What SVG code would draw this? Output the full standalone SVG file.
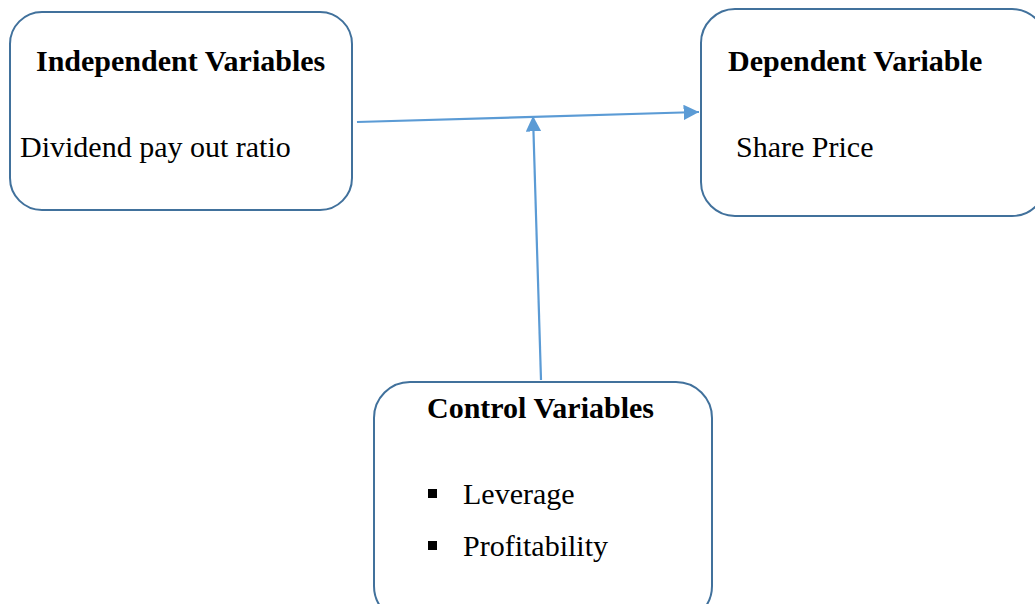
<svg xmlns="http://www.w3.org/2000/svg" width="1035" height="604" viewBox="0 0 1035 604">
<style>
.box{fill:#fff;stroke:#41719c;stroke-width:2}
.t{font-family:"Liberation Serif","Times New Roman",serif;font-size:30px;fill:#000}
.b{font-weight:bold}
.c{stroke:#5b9bd5;stroke-width:2.2;fill:none}
</style>
<defs>
<marker id="ah" viewBox="0 0 10 10" refX="10" refY="5" markerWidth="7" markerHeight="7" orient="auto" markerUnits="strokeWidth">
<path d="M0,0 L10,5 L0,10 z" fill="#5b9bd5"/>
</marker>
</defs>
<rect width="1035" height="604" fill="#fff"/>
<g id="independent">
<rect class="box" x="10" y="12" width="342" height="198" rx="32"/>
<text class="t b" x="36" y="71">Independent Variables</text>
<text class="t" x="20" y="157">Dividend pay out ratio</text>
</g>
<g id="dependent">
<rect class="box" x="701" y="9" width="345" height="207" rx="34"/>
<text class="t b" x="728" y="71">Dependent Variable</text>
<text class="t" x="736" y="157">Share Price</text>
</g>
<g id="control">
<rect class="box" x="374" y="382" width="338" height="240" rx="36"/>
<text class="t b" x="427" y="418">Control Variables</text>
<rect x="428" y="489" width="9" height="9" fill="#000"/>
<text class="t" x="463" y="504">Leverage</text>
<rect x="428" y="541" width="9" height="9" fill="#000"/>
<text class="t" x="463" y="556">Profitability</text>
</g>
<g id="connectors">
<line class="c" x1="357" y1="122" x2="699" y2="112" marker-end="url(#ah)"/>
<line class="c" x1="541" y1="380" x2="533" y2="116" marker-end="url(#ah)"/>
</g>
</svg>
